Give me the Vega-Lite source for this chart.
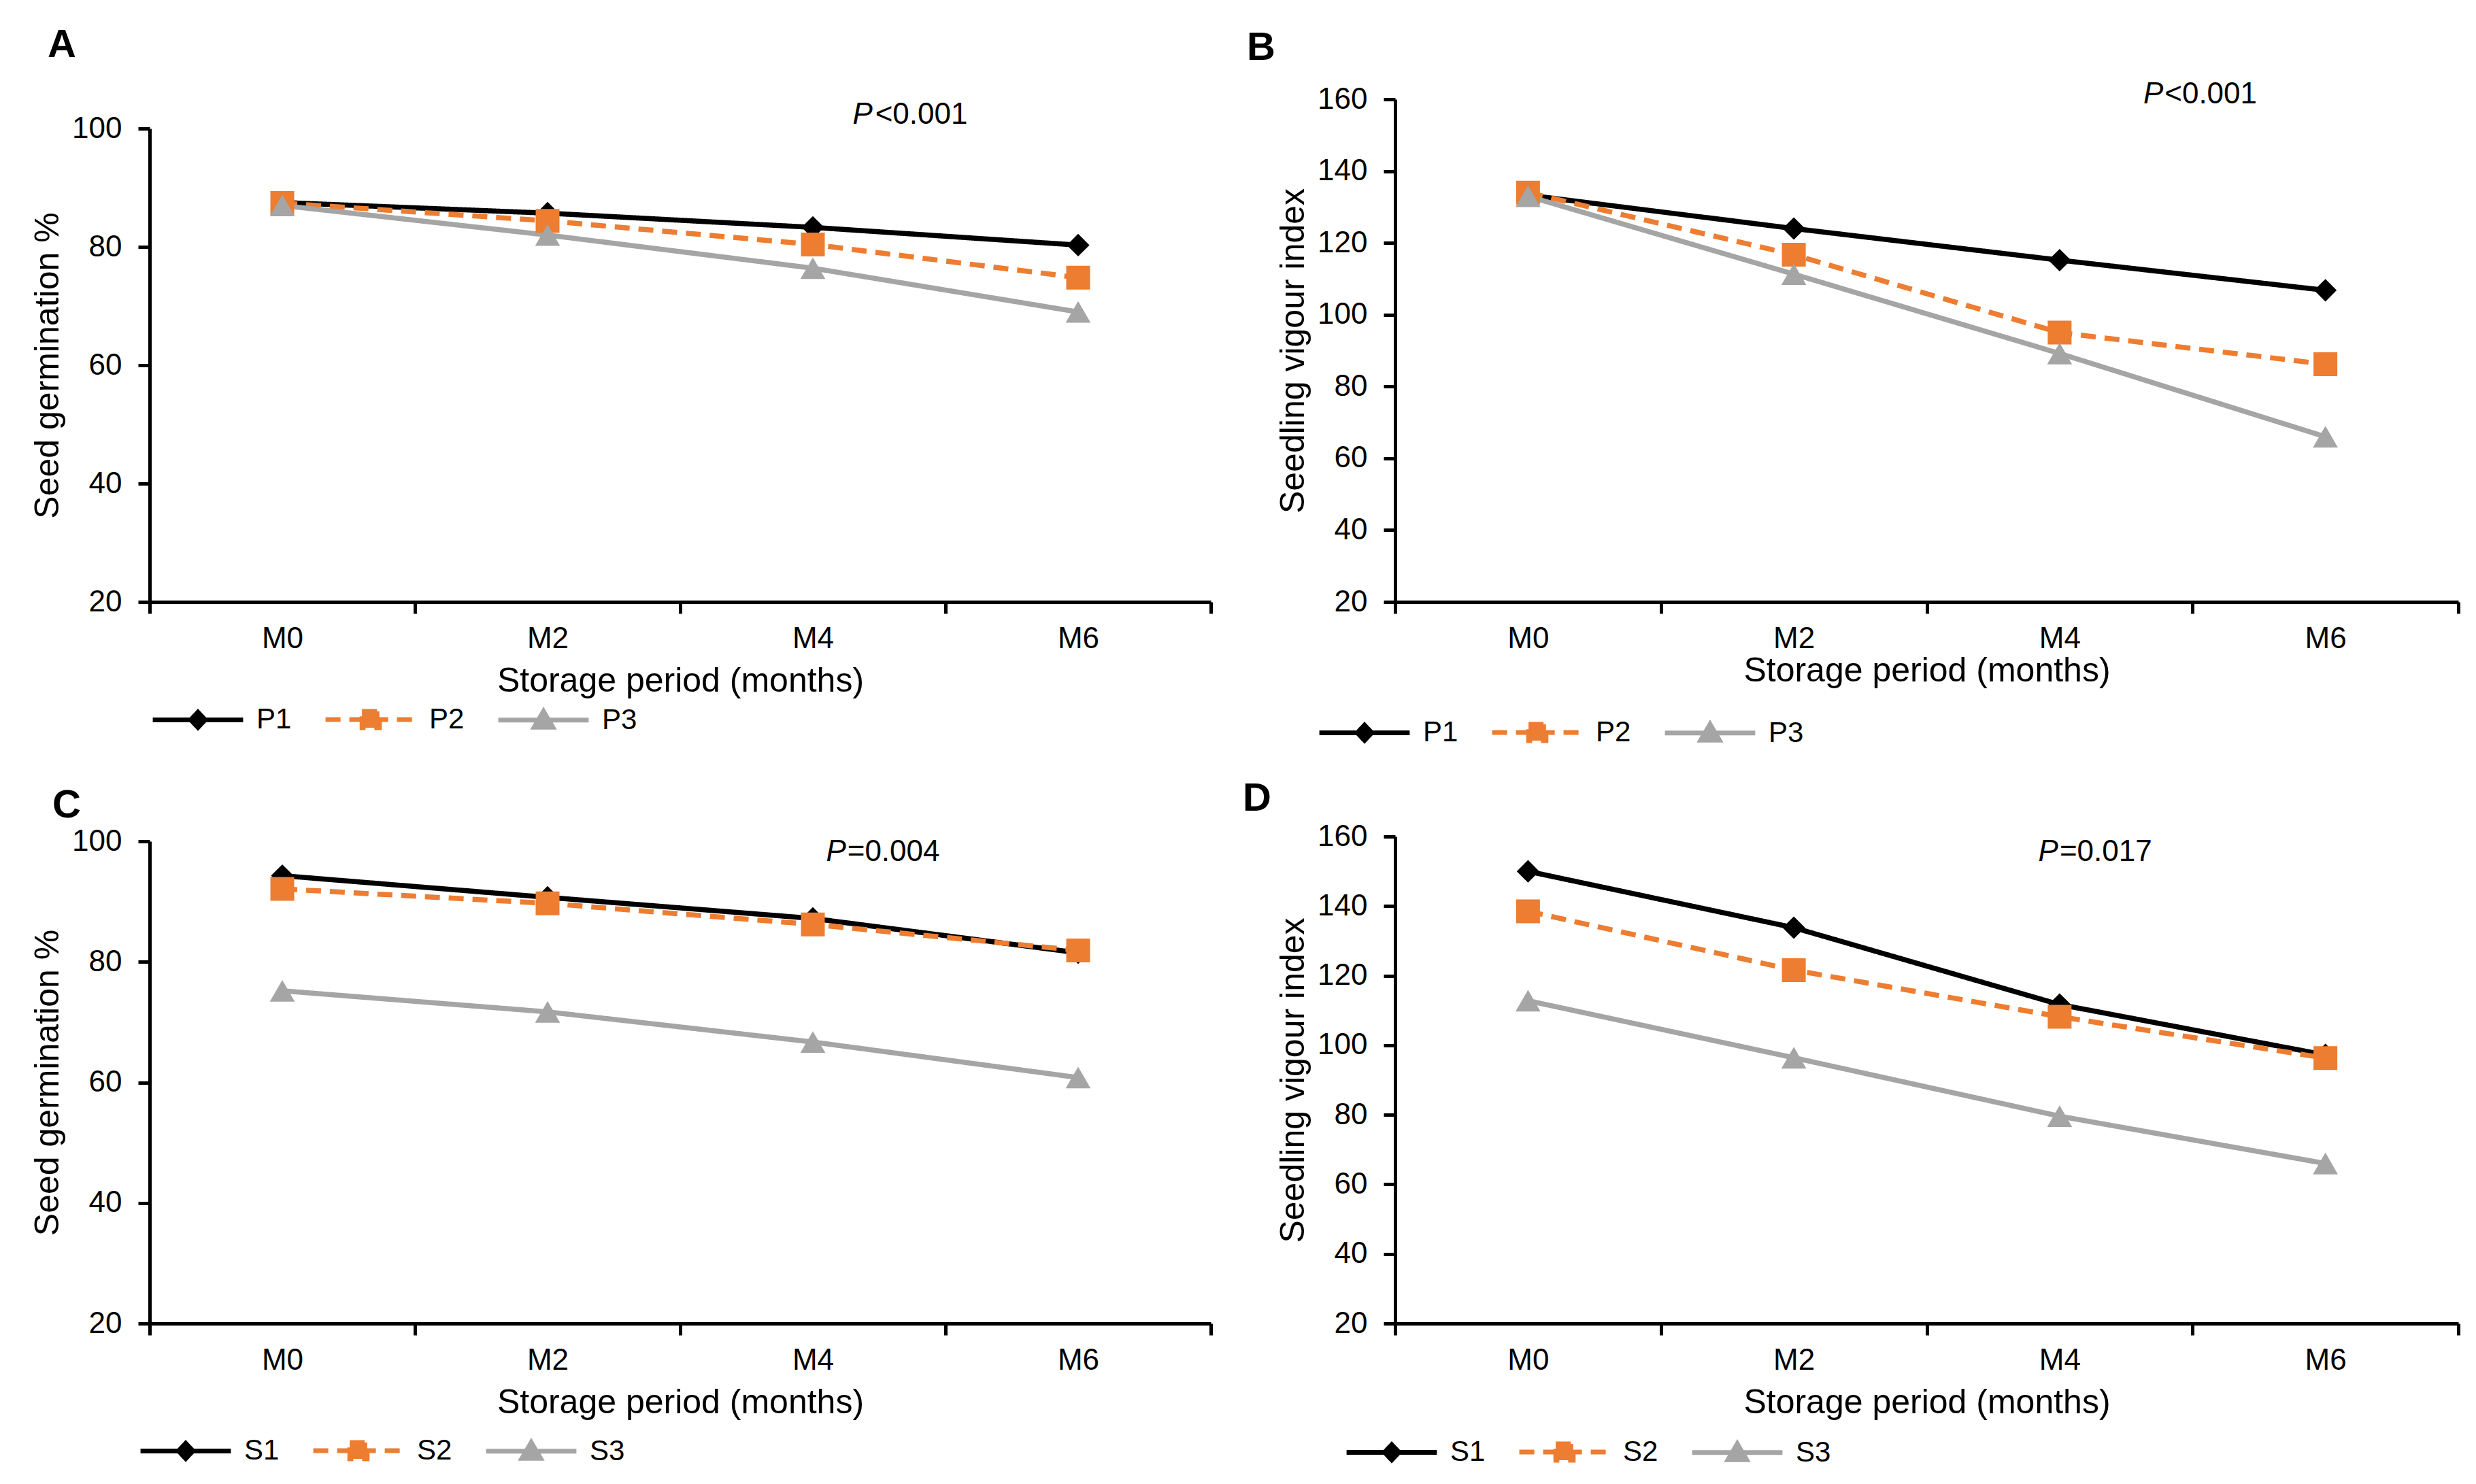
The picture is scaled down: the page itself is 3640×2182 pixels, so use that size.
{
  "$schema": "https://vega.github.io/schema/vega-lite/v6.json",
  "background": "white",
  "padding": {"left": 45, "top": 38, "right": 0, "bottom": 0},
  "bounds": "flush",
  "align": "each",
  "columns": 2,
  "spacing": {"row": 345, "column": 271},
  "resolve": {
    "scale": {"color": "independent", "shape": "independent", "size": "independent", "strokeDash": "independent"},
    "legend": {"color": "independent", "shape": "independent", "size": "independent", "strokeDash": "independent"}
  },
  "datasets": {
    "obs": [
      {"panel": "A", "series": "P1", "month": 0, "value": 87.5},
      {"panel": "A", "series": "P1", "month": 2, "value": 85.7},
      {"panel": "A", "series": "P1", "month": 4, "value": 83.3},
      {"panel": "A", "series": "P1", "month": 6, "value": 80.3},
      {"panel": "A", "series": "P2", "month": 0, "value": 87.4},
      {"panel": "A", "series": "P2", "month": 2, "value": 84.4},
      {"panel": "A", "series": "P2", "month": 4, "value": 80.4},
      {"panel": "A", "series": "P2", "month": 6, "value": 74.8},
      {"panel": "A", "series": "P3", "month": 0, "value": 87.0},
      {"panel": "A", "series": "P3", "month": 2, "value": 82.0},
      {"panel": "A", "series": "P3", "month": 4, "value": 76.4},
      {"panel": "A", "series": "P3", "month": 6, "value": 69.0},
      {"panel": "B", "series": "P1", "month": 0, "value": 133.3},
      {"panel": "B", "series": "P1", "month": 2, "value": 124.0},
      {"panel": "B", "series": "P1", "month": 4, "value": 115.2},
      {"panel": "B", "series": "P1", "month": 6, "value": 106.8},
      {"panel": "B", "series": "P2", "month": 0, "value": 134.0},
      {"panel": "B", "series": "P2", "month": 2, "value": 116.7},
      {"panel": "B", "series": "P2", "month": 4, "value": 95.0},
      {"panel": "B", "series": "P2", "month": 6, "value": 86.2},
      {"panel": "B", "series": "P3", "month": 0, "value": 133.0},
      {"panel": "B", "series": "P3", "month": 2, "value": 111.3},
      {"panel": "B", "series": "P3", "month": 4, "value": 89.2},
      {"panel": "B", "series": "P3", "month": 6, "value": 66.0},
      {"panel": "C", "series": "S1", "month": 0, "value": 94.3},
      {"panel": "C", "series": "S1", "month": 2, "value": 90.7},
      {"panel": "C", "series": "S1", "month": 4, "value": 87.2},
      {"panel": "C", "series": "S1", "month": 6, "value": 81.5},
      {"panel": "C", "series": "S2", "month": 0, "value": 92.1},
      {"panel": "C", "series": "S2", "month": 2, "value": 89.7},
      {"panel": "C", "series": "S2", "month": 4, "value": 86.2},
      {"panel": "C", "series": "S2", "month": 6, "value": 81.9},
      {"panel": "C", "series": "S3", "month": 0, "value": 75.2},
      {"panel": "C", "series": "S3", "month": 2, "value": 71.7},
      {"panel": "C", "series": "S3", "month": 4, "value": 66.7},
      {"panel": "C", "series": "S3", "month": 6, "value": 60.8},
      {"panel": "D", "series": "S1", "month": 0, "value": 150.0},
      {"panel": "D", "series": "S1", "month": 2, "value": 133.8},
      {"panel": "D", "series": "S1", "month": 4, "value": 111.7},
      {"panel": "D", "series": "S1", "month": 6, "value": 97.2},
      {"panel": "D", "series": "S2", "month": 0, "value": 138.5},
      {"panel": "D", "series": "S2", "month": 2, "value": 121.6},
      {"panel": "D", "series": "S2", "month": 4, "value": 108.2},
      {"panel": "D", "series": "S2", "month": 6, "value": 96.3},
      {"panel": "D", "series": "S3", "month": 0, "value": 112.8},
      {"panel": "D", "series": "S3", "month": 2, "value": 96.4},
      {"panel": "D", "series": "S3", "month": 4, "value": 79.6},
      {"panel": "D", "series": "S3", "month": 6, "value": 66.0}
    ],
    "notes": [
      {"panel": "A", "part": "p", "text": "P", "month": 4.30, "value": 102.3},
      {"panel": "A", "part": "rest", "text": "<0.001", "month": 4.47, "value": 102.3},
      {"panel": "B", "part": "p", "text": "P", "month": 4.63, "value": 161.3},
      {"panel": "B", "part": "rest", "text": "<0.001", "month": 4.79, "value": 161.3},
      {"panel": "C", "part": "p", "text": "P", "month": 4.10, "value": 98.2},
      {"panel": "C", "part": "rest", "text": "=0.004", "month": 4.26, "value": 98.2},
      {"panel": "D", "part": "p", "text": "P", "month": 3.84, "value": 155.5},
      {"panel": "D", "part": "rest", "text": "=0.017", "month": 4.00, "value": 155.5}
    ]
  },
  "concat": [
    {
      "title": {"text": "A", "dx": -150, "offset": 50},
      "width": 1560, "height": 739,
      "layer": [
        {
          "data": {"name": "obs"},
          "transform": [{"filter": "datum.panel === 'A'"}],
          "mark": {"type": "line", "strokeWidth": 7.5},
          "encoding": {
            "x": {"field": "month", "type": "quantitative", "scale": {"domain": [-1, 7], "nice": false, "zero": false},
                  "axis": {"title": "Storage period (months)", "titlePadding": 15, "values": [-1, 0, 1, 2, 3, 4, 5, 6, 7], "labelExpr": "datum.value % 2 === 0 ? 'M' + datum.value : ''",
                           "tickOpacity": {"condition": {"test": "datum.value % 2 === 0", "value": 0}, "value": 1}}},
            "y": {"field": "value", "type": "quantitative", "scale": {"domain": [20, 100], "nice": false, "zero": false, "range": [739, 43]},
                  "axis": {"title": "Seed germination %", "values": [20, 40, 60, 80, 100]}},
            "color": {"field": "series", "type": "nominal", "scale": {"domain": ["P1", "P2", "P3"], "range": ["#000000", "#ED7D31", "#A5A5A5"]},
                      "legend": {"legendX": 3, "legendY": 891,
                        "symbolType": {"expr": "datum.value === 'P1' ? 'M-4.15,0H4.15M0,-0.7L0.66,0L0,0.7L-0.66,0Z' : datum.value === 'P2' ? 'M-4.15,0H4.15M-0.8,-0.75H0.8V0.75H-0.8Z' : 'M-4.15,0H4.15M0,-0.8L0.85,0.65H-0.85Z'"},
                        "symbolFillColor": {"expr": "datum.value === 'P1' ? '#000000' : datum.value === 'P2' ? '#ED7D31' : '#A5A5A5'"},
                        "symbolStrokeColor": {"expr": "datum.value === 'P1' ? '#000000' : datum.value === 'P2' ? '#ED7D31' : '#A5A5A5'"},
                        "symbolDash": {"expr": "datum.value === 'P2' ? [22, 13] : [1, 0]"}}},
            "strokeDash": {"field": "series", "type": "nominal", "scale": {"domain": ["P3", "P2", "P1"], "range": [[1, 0], [22, 13], [1, 0]]}, "legend": null}
          }
        },
        {
          "data": {"name": "obs"},
          "transform": [{"filter": "datum.panel === 'A'"}],
          "mark": {"type": "point", "filled": true, "opacity": 1},
          "encoding": {
            "x": {"field": "month", "type": "quantitative"},
            "y": {"field": "value", "type": "quantitative"},
            "color": {"field": "series", "type": "nominal", "legend": null},
            "shape": {"field": "series", "type": "nominal", "scale": {"domain": ["P3", "P2", "P1"], "range": ["triangle-up", "square", "diamond"]}, "legend": null},
            "size": {"field": "series", "type": "nominal", "scale": {"domain": ["P3", "P2", "P1"], "range": [1350, 1100, 1200]}, "legend": null}
          }
        },
        {
          "data": {"name": "notes"},
          "transform": [{"filter": "datum.panel === 'A' && datum.part === 'p'"}],
          "mark": {"type": "text", "align": "left", "baseline": "middle", "fontSize": 44, "fontStyle": "italic", "font": "Liberation Sans"},
          "encoding": {"x": {"field": "month", "type": "quantitative"}, "y": {"field": "value", "type": "quantitative"}, "text": {"field": "text"}}
        },
        {
          "data": {"name": "notes"},
          "transform": [{"filter": "datum.panel === 'A' && datum.part === 'rest'"}],
          "mark": {"type": "text", "align": "left", "baseline": "middle", "fontSize": 44, "font": "Liberation Sans"},
          "encoding": {"x": {"field": "month", "type": "quantitative"}, "y": {"field": "value", "type": "quantitative"}, "text": {"field": "text"}}
        }
      ]
    },
    {
      "title": {"text": "B", "dx": -218, "offset": 17},
      "width": 1563, "height": 739,
      "layer": [
        {
          "data": {"name": "obs"},
          "transform": [{"filter": "datum.panel === 'B'"}],
          "mark": {"type": "line", "strokeWidth": 7.5},
          "encoding": {
            "x": {"field": "month", "type": "quantitative", "scale": {"domain": [-1, 7], "nice": false, "zero": false},
                  "axis": {"title": "Storage period (months)", "titlePadding": 0, "values": [-1, 0, 1, 2, 3, 4, 5, 6, 7], "labelExpr": "datum.value % 2 === 0 ? 'M' + datum.value : ''",
                           "tickOpacity": {"condition": {"test": "datum.value % 2 === 0", "value": 0}, "value": 1}}},
            "y": {"field": "value", "type": "quantitative", "scale": {"domain": [20, 160], "nice": false, "zero": false},
                  "axis": {"title": "Seedling vigour index", "values": [20, 40, 60, 80, 100, 120, 140, 160]}},
            "color": {"field": "series", "type": "nominal", "scale": {"domain": ["P1", "P2", "P3"], "range": ["#000000", "#ED7D31", "#A5A5A5"]},
                      "legend": {"legendX": -113, "legendY": 910,
                        "symbolType": {"expr": "datum.value === 'P1' ? 'M-4.15,0H4.15M0,-0.7L0.66,0L0,0.7L-0.66,0Z' : datum.value === 'P2' ? 'M-4.15,0H4.15M-0.8,-0.75H0.8V0.75H-0.8Z' : 'M-4.15,0H4.15M0,-0.8L0.85,0.65H-0.85Z'"},
                        "symbolFillColor": {"expr": "datum.value === 'P1' ? '#000000' : datum.value === 'P2' ? '#ED7D31' : '#A5A5A5'"},
                        "symbolStrokeColor": {"expr": "datum.value === 'P1' ? '#000000' : datum.value === 'P2' ? '#ED7D31' : '#A5A5A5'"},
                        "symbolDash": {"expr": "datum.value === 'P2' ? [22, 13] : [1, 0]"}}},
            "strokeDash": {"field": "series", "type": "nominal", "scale": {"domain": ["P3", "P2", "P1"], "range": [[1, 0], [22, 13], [1, 0]]}, "legend": null}
          }
        },
        {
          "data": {"name": "obs"},
          "transform": [{"filter": "datum.panel === 'B'"}],
          "mark": {"type": "point", "filled": true, "opacity": 1},
          "encoding": {
            "x": {"field": "month", "type": "quantitative"},
            "y": {"field": "value", "type": "quantitative"},
            "color": {"field": "series", "type": "nominal", "legend": null},
            "shape": {"field": "series", "type": "nominal", "scale": {"domain": ["P3", "P2", "P1"], "range": ["triangle-up", "square", "diamond"]}, "legend": null},
            "size": {"field": "series", "type": "nominal", "scale": {"domain": ["P3", "P2", "P1"], "range": [1350, 1100, 1200]}, "legend": null}
          }
        },
        {
          "data": {"name": "notes"},
          "transform": [{"filter": "datum.panel === 'B' && datum.part === 'p'"}],
          "mark": {"type": "text", "align": "left", "baseline": "middle", "fontSize": 44, "fontStyle": "italic", "font": "Liberation Sans"},
          "encoding": {"x": {"field": "month", "type": "quantitative"}, "y": {"field": "value", "type": "quantitative"}, "text": {"field": "text"}}
        },
        {
          "data": {"name": "notes"},
          "transform": [{"filter": "datum.panel === 'B' && datum.part === 'rest'"}],
          "mark": {"type": "text", "align": "left", "baseline": "middle", "fontSize": 44, "font": "Liberation Sans"},
          "encoding": {"x": {"field": "month", "type": "quantitative"}, "y": {"field": "value", "type": "quantitative"}, "text": {"field": "text"}}
        }
      ]
    },
    {
      "title": {"text": "C", "dx": -143, "offset": 1},
      "width": 1560, "height": 716,
      "layer": [
        {
          "data": {"name": "obs"},
          "transform": [{"filter": "datum.panel === 'C'"}],
          "mark": {"type": "line", "strokeWidth": 7.5},
          "encoding": {
            "x": {"field": "month", "type": "quantitative", "scale": {"domain": [-1, 7], "nice": false, "zero": false},
                  "axis": {"title": "Storage period (months)", "titlePadding": 15, "values": [-1, 0, 1, 2, 3, 4, 5, 6, 7], "labelExpr": "datum.value % 2 === 0 ? 'M' + datum.value : ''",
                           "tickOpacity": {"condition": {"test": "datum.value % 2 === 0", "value": 0}, "value": 1}}},
            "y": {"field": "value", "type": "quantitative", "scale": {"domain": [20, 100], "nice": false, "zero": false, "range": [716, 7]},
                  "axis": {"title": "Seed germination %", "values": [20, 40, 60, 80, 100]}},
            "color": {"field": "series", "type": "nominal", "scale": {"domain": ["S1", "S2", "S3"], "range": ["#000000", "#ED7D31", "#A5A5A5"]},
                      "legend": {"legendX": -15, "legendY": 882,
                        "symbolType": {"expr": "datum.value === 'S1' ? 'M-4.15,0H4.15M0,-0.7L0.66,0L0,0.7L-0.66,0Z' : datum.value === 'S2' ? 'M-4.15,0H4.15M-0.8,-0.75H0.8V0.75H-0.8Z' : 'M-4.15,0H4.15M0,-0.8L0.85,0.65H-0.85Z'"},
                        "symbolFillColor": {"expr": "datum.value === 'S1' ? '#000000' : datum.value === 'S2' ? '#ED7D31' : '#A5A5A5'"},
                        "symbolStrokeColor": {"expr": "datum.value === 'S1' ? '#000000' : datum.value === 'S2' ? '#ED7D31' : '#A5A5A5'"},
                        "symbolDash": {"expr": "datum.value === 'S2' ? [22, 13] : [1, 0]"}}},
            "strokeDash": {"field": "series", "type": "nominal", "scale": {"domain": ["S3", "S2", "S1"], "range": [[1, 0], [22, 13], [1, 0]]}, "legend": null}
          }
        },
        {
          "data": {"name": "obs"},
          "transform": [{"filter": "datum.panel === 'C'"}],
          "mark": {"type": "point", "filled": true, "opacity": 1},
          "encoding": {
            "x": {"field": "month", "type": "quantitative"},
            "y": {"field": "value", "type": "quantitative"},
            "color": {"field": "series", "type": "nominal", "legend": null},
            "shape": {"field": "series", "type": "nominal", "scale": {"domain": ["S3", "S2", "S1"], "range": ["triangle-up", "square", "diamond"]}, "legend": null},
            "size": {"field": "series", "type": "nominal", "scale": {"domain": ["S3", "S2", "S1"], "range": [1350, 1100, 1200]}, "legend": null}
          }
        },
        {
          "data": {"name": "notes"},
          "transform": [{"filter": "datum.panel === 'C' && datum.part === 'p'"}],
          "mark": {"type": "text", "align": "left", "baseline": "middle", "fontSize": 44, "fontStyle": "italic", "font": "Liberation Sans"},
          "encoding": {"x": {"field": "month", "type": "quantitative"}, "y": {"field": "value", "type": "quantitative"}, "text": {"field": "text"}}
        },
        {
          "data": {"name": "notes"},
          "transform": [{"filter": "datum.panel === 'C' && datum.part === 'rest'"}],
          "mark": {"type": "text", "align": "left", "baseline": "middle", "fontSize": 44, "font": "Liberation Sans"},
          "encoding": {"x": {"field": "month", "type": "quantitative"}, "y": {"field": "value", "type": "quantitative"}, "text": {"field": "text"}}
        }
      ]
    },
    {
      "title": {"text": "D", "dx": -224, "offset": 4},
      "width": 1563, "height": 716,
      "layer": [
        {
          "data": {"name": "obs"},
          "transform": [{"filter": "datum.panel === 'D'"}],
          "mark": {"type": "line", "strokeWidth": 7.5},
          "encoding": {
            "x": {"field": "month", "type": "quantitative", "scale": {"domain": [-1, 7], "nice": false, "zero": false},
                  "axis": {"title": "Storage period (months)", "titlePadding": 15, "values": [-1, 0, 1, 2, 3, 4, 5, 6, 7], "labelExpr": "datum.value % 2 === 0 ? 'M' + datum.value : ''",
                           "tickOpacity": {"condition": {"test": "datum.value % 2 === 0", "value": 0}, "value": 1}}},
            "y": {"field": "value", "type": "quantitative", "scale": {"domain": [20, 160], "nice": false, "zero": false},
                  "axis": {"title": "Seedling vigour index", "values": [20, 40, 60, 80, 100, 120, 140, 160]}},
            "color": {"field": "series", "type": "nominal", "scale": {"domain": ["S1", "S2", "S3"], "range": ["#000000", "#ED7D31", "#A5A5A5"]},
                      "legend": {"legendX": -73, "legendY": 884,
                        "symbolType": {"expr": "datum.value === 'S1' ? 'M-4.15,0H4.15M0,-0.7L0.66,0L0,0.7L-0.66,0Z' : datum.value === 'S2' ? 'M-4.15,0H4.15M-0.8,-0.75H0.8V0.75H-0.8Z' : 'M-4.15,0H4.15M0,-0.8L0.85,0.65H-0.85Z'"},
                        "symbolFillColor": {"expr": "datum.value === 'S1' ? '#000000' : datum.value === 'S2' ? '#ED7D31' : '#A5A5A5'"},
                        "symbolStrokeColor": {"expr": "datum.value === 'S1' ? '#000000' : datum.value === 'S2' ? '#ED7D31' : '#A5A5A5'"},
                        "symbolDash": {"expr": "datum.value === 'S2' ? [22, 13] : [1, 0]"}}},
            "strokeDash": {"field": "series", "type": "nominal", "scale": {"domain": ["S3", "S2", "S1"], "range": [[1, 0], [22, 13], [1, 0]]}, "legend": null}
          }
        },
        {
          "data": {"name": "obs"},
          "transform": [{"filter": "datum.panel === 'D'"}],
          "mark": {"type": "point", "filled": true, "opacity": 1},
          "encoding": {
            "x": {"field": "month", "type": "quantitative"},
            "y": {"field": "value", "type": "quantitative"},
            "color": {"field": "series", "type": "nominal", "legend": null},
            "shape": {"field": "series", "type": "nominal", "scale": {"domain": ["S3", "S2", "S1"], "range": ["triangle-up", "square", "diamond"]}, "legend": null},
            "size": {"field": "series", "type": "nominal", "scale": {"domain": ["S3", "S2", "S1"], "range": [1350, 1100, 1200]}, "legend": null}
          }
        },
        {
          "data": {"name": "notes"},
          "transform": [{"filter": "datum.panel === 'D' && datum.part === 'p'"}],
          "mark": {"type": "text", "align": "left", "baseline": "middle", "fontSize": 44, "fontStyle": "italic", "font": "Liberation Sans"},
          "encoding": {"x": {"field": "month", "type": "quantitative"}, "y": {"field": "value", "type": "quantitative"}, "text": {"field": "text"}}
        },
        {
          "data": {"name": "notes"},
          "transform": [{"filter": "datum.panel === 'D' && datum.part === 'rest'"}],
          "mark": {"type": "text", "align": "left", "baseline": "middle", "fontSize": 44, "font": "Liberation Sans"},
          "encoding": {"x": {"field": "month", "type": "quantitative"}, "y": {"field": "value", "type": "quantitative"}, "text": {"field": "text"}}
        }
      ]
    }
  ],
  "config": {
    "font": "Liberation Sans",
    "view": {"stroke": null},
    "title": {"anchor": "start", "frame": "group", "fontSize": 58, "fontWeight": "bold", "font": "Liberation Sans", "color": "#000000"},
    "axis": {
      "grid": false,
      "domainColor": "#000000", "domainWidth": 5,
      "tickColor": "#000000", "tickWidth": 5, "tickSize": 17,
      "labelFont": "Liberation Sans", "labelFontSize": 44, "labelColor": "#000000", "labelPadding": 24,
      "labelOverlap": false, "labelFlush": false,
      "titleFont": "Liberation Sans", "titleFontSize": 50, "titleFontWeight": "normal", "titleColor": "#000000"
    },
    "axisX": {"labelPadding": 15},
    "axisY": {"titlePadding": 10},
    "legend": {
      "orient": "none", "direction": "horizontal", "title": null,
      "labelFont": "Liberation Sans", "labelFontSize": 42, "labelColor": "#000000",
      "symbolSize": 1024, "symbolStrokeWidth": 7, "symbolOffset": 47, "labelOffset": 65, "columnPadding": 35, "padding": 0, "symbolOpacity": 1
    }
  }
}
